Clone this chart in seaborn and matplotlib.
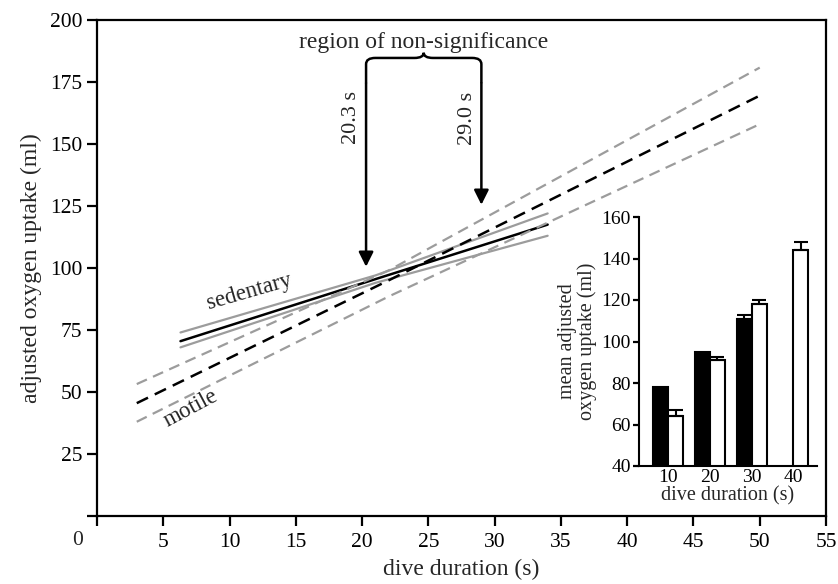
import numpy as np
import pandas as pd
import matplotlib
matplotlib.use("Agg")
import matplotlib.pyplot as plt
from matplotlib.path import Path
from matplotlib.patches import PathPatch
import seaborn as sns

# ---------------- data ----------------
sed_x = [6.3, 21.0, 34.0]
sed_fit = [70.5, 95.5, 117.5]
sed_upper = [74.0, 97.0, 122.0]
sed_lower = [68.0, 94.0, 113.0]

mot_x = [3.0, 22.0, 50.0]
mot_fit = [45.5, 95.0, 169.5]
mot_upper = [53.2, 99.0, 180.8]
mot_lower = [38.0, 88.5, 158.0]

cross_low = 20.3
cross_high = 29.0
cross_labels = ["20.3 s", "29.0 s"]

x_ticks = [0, 5, 10, 15, 20, 25, 30, 35, 40, 45, 50, 55]
y_ticks = [0, 25, 50, 75, 100, 125, 150, 175, 200]

inset_durations = ["10", "20", "30", "40"]
sed_mean = [78, 95, 111, np.nan]
sed_err = [0.0, 0.0, 2.0, np.nan]
mot_mean = [64, 91, 118, 144]
mot_err = [3.0, 1.5, 2.0, 4.0]
inset_yticks = [40, 60, 80, 100, 120, 140, 160]

# ---------------- style ----------------
sns.set_theme(style="ticks")
plt.rcParams["font.family"] = ["Liberation Serif", "DejaVu Serif"]
plt.rcParams["axes.linewidth"] = 1.6
plt.rcParams["xtick.major.width"] = 1.6
plt.rcParams["ytick.major.width"] = 1.6

GRAY = "#9c9c9c"
fig = plt.figure(figsize=(8.38, 5.84), dpi=100)
ax = fig.add_axes([97 / 838, (584 - 516) / 584, (826 - 97) / 838, (516 - 20) / 584])

# sedentary: solid
sns.lineplot(x=sed_x, y=sed_upper, ax=ax, color=GRAY, lw=1.6)
sns.lineplot(x=sed_x, y=sed_lower, ax=ax, color=GRAY, lw=1.6)
sns.lineplot(x=sed_x, y=sed_fit, ax=ax, color="black", lw=1.8)
# motile: dashed
dash = (0, (5, 3))
sns.lineplot(x=mot_x, y=mot_upper, ax=ax, color=GRAY, lw=1.6, linestyle=dash)
sns.lineplot(x=mot_x, y=mot_lower, ax=ax, color=GRAY, lw=1.6, linestyle=dash)
sns.lineplot(x=mot_x, y=mot_fit, ax=ax, color="black", lw=1.8, linestyle=dash)

ax.set_xlim(0, 55)
ax.set_ylim(0, 200)
ax.set_xticks(x_ticks)
ax.set_xticklabels([""] + [str(v) for v in x_ticks[1:]])
ax.set_yticks(y_ticks)
ax.set_yticklabels([""] + [str(v) for v in y_ticks[1:]])
ax.tick_params(axis="both", labelsize=15.5, length=7, direction="out", colors="black")
ax.tick_params(axis="x", pad=5)
ax.annotate("0", xy=(0, 0), xycoords="data", xytext=(-14, -11), textcoords="offset points",
            ha="center", va="top", fontsize=15.5)
for s in ax.spines.values():
    s.set_color("black")
    s.set_linewidth(1.6)
ax.set_xlabel("dive duration (s)", fontsize=17, labelpad=5)
ax.set_ylabel("adjusted oxygen uptake (ml)", fontsize=17, labelpad=6)

# curve labels
ax.text(11.5, 90.5, "sedentary", rotation=16, fontsize=16.5, ha="center", va="center")
ax.text(7.1, 43.5, "motile", rotation=28, fontsize=16.5, ha="center", va="center")

# arrows marking the region of non-significance
arrow_top = 174.5
for xv, ytip, lab in [(cross_low, 100.5, cross_labels[0]), (cross_high, 125.5, cross_labels[1])]:
    ax.annotate("", xy=(xv, ytip), xytext=(xv, arrow_top),
                arrowprops=dict(arrowstyle="-|>", color="black", lw=1.8,
                                mutation_scale=22, shrinkA=0, shrinkB=0))
    ax.text(xv - 0.35, 160.5, lab, rotation=90, ha="right", va="center", fontsize=16)

# curly brace
xc = (cross_low + cross_high) / 2
yb, yl, yc = arrow_top, 184.7, 186.8
r = 0.7
verts = [(cross_low, yb), (cross_low, yl - 2.5), (cross_low, yl), (cross_low + r, yl),
         (xc - r, yl), (xc, yl), (xc, yc),
         (xc, yl), (xc + r, yl),
         (cross_high - r, yl), (cross_high, yl), (cross_high, yl - 2.5), (cross_high, yb)]
codes = [Path.MOVETO, Path.LINETO, Path.CURVE3, Path.CURVE3,
         Path.LINETO, Path.CURVE3, Path.CURVE3,
         Path.CURVE3, Path.CURVE3,
         Path.LINETO, Path.CURVE3, Path.CURVE3, Path.LINETO]
ax.add_patch(PathPatch(Path(verts, codes), fill=False, lw=1.8, color="black"))
ax.text(xc, 191, "region of non-significance", ha="center", va="center", fontsize=17)

# ---------------- inset bar chart ----------------
iax = fig.add_axes([639 / 838, (584 - 466) / 584, (817 - 639) / 838, (466 - 217) / 584])
iax.patch.set_alpha(0)
df = pd.DataFrame({
    "duration": inset_durations * 2,
    "group": ["sedentary"] * 4 + ["motile"] * 4,
    "mean": sed_mean + mot_mean,
})
sns.barplot(data=df, x="duration", y="mean", hue="group", order=inset_durations,
            hue_order=["sedentary", "motile"], palette={"sedentary": "black", "motile": "white"},
            edgecolor="black", linewidth=1.5, width=0.72, errorbar=None, legend=False, ax=iax)
errs = {"sedentary": sed_err, "motile": mot_err}
for cont, grp in zip(iax.containers, ["sedentary", "motile"]):
    for bar in cont:
        h = bar.get_height()
        if not np.isfinite(h):
            continue
        xc_b = bar.get_x() + bar.get_width() / 2
        idx = int(round(xc_b))
        e = errs[grp][idx]
        if not (e > 0):
            continue
        iax.errorbar([xc_b], [h], yerr=[[0], [e]], fmt="none", ecolor="black",
                     elinewidth=1.5, capsize=5, capthick=1.5, zorder=5)
iax.set_xlim(-0.7, 3.57)
iax.set_ylim(40, 160)
iax.set_yticks(inset_yticks)
iax.tick_params(axis="y", labelsize=14, length=4, pad=2, colors="black")
iax.tick_params(axis="x", labelsize=14, length=0, pad=2, colors="black")
sns.despine(ax=iax)
for s in ["left", "bottom"]:
    iax.spines[s].set_color("black")
    iax.spines[s].set_linewidth(1.5)
iax.set_xlabel("dive duration (s)", fontsize=14.5, labelpad=0)
iax.set_ylabel("mean adjusted\noxygen uptake (ml)", fontsize=14.5, labelpad=3, linespacing=1.05)

fig.savefig("out.png", dpi=100)
